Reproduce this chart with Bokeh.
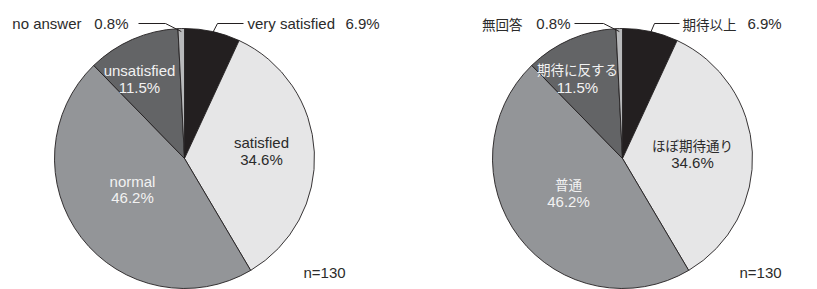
import math
from bokeh.plotting import figure
from bokeh.models import Range1d, ColumnDataSource
from bokeh.core.properties import value
from bokeh.embed import file_html
from bokeh.resources import INLINE

# ---- data ----
categories_en = ["very satisfied", "satisfied", "normal", "unsatisfied", "no answer"]
categories_ja = ["期待以上", "ほぼ期待通り", "普通", "期待に反する", "無回答"]
shares = [6.9, 34.6, 46.2, 11.5, 0.8]
n_resp = 130

# ---- styles ----
colors = ["#231f20", "#e6e6e7", "#939598", "#636466", "#b8b9bb"]
inner_text_colors = [None, "#2b2b2b", "#f2f2f2", "#f2f2f2", None]
LATIN = "Liberation Sans"
CJK = "Noto Sans CJK JP"
FS = "15px"
FS_CJK = "13.5px"
TXT = "#2b2b2b"

W, H = 817, 289
p = figure(width=W, height=H, output_backend="svg", toolbar_location=None,
           x_range=Range1d(0, W), y_range=Range1d(-H, 0),
           x_axis_type=None, y_axis_type=None, min_border=0,
           background_fill_color="white", border_fill_color="white")
p.outline_line_color = None
p.grid.visible = False

R = 130
OUT_Y = 23  # y of outer callout labels (screen)

charts = [
    dict(cx=184, cy=158, labels=categories_en, lfont=LATIN, lfs=FS,
         inner=[None, (77, -16), (-52, 23), (-45, -88), None],
         inner_pct=[None, (77, 1), (-52, 39), (-45, -71), None],
         na_lbl=-103, na_pct=-56, na_elbow=-19, na_end=-46,
         vs_lbl=63, vs_pct=161, vs_elbow=33, vs_end=59,
         nx=140),
    dict(cx=622, cy=158, labels=categories_ja, lfont=CJK, lfs=FS_CJK,
         inner=[None, (70, -14), (-54, 25), (-45, -90), None],
         inner_pct=[None, (70, 4), (-54, 43), (-45, -71), None],
         na_lbl=-100, na_pct=-52, na_elbow=-19, na_end=-48,
         vs_lbl=60, vs_pct=125, vs_elbow=32, vs_end=57,
         nx=138),
]

for c in charts:
    cx, cy = c["cx"], -c["cy"]
    cum = 0.0
    starts, ends, mids = [], [], []
    for s in shares:
        a0 = math.pi / 2 - 2 * math.pi * cum / 100.0
        cum += s
        a1 = math.pi / 2 - 2 * math.pi * cum / 100.0
        starts.append(a0)
        ends.append(a1)
        mids.append((a0 + a1) / 2)
    src = ColumnDataSource(dict(x=[cx] * len(shares), y=[cy] * len(shares),
                                start=starts, end=ends, color=colors))
    p.wedge(x="x", y="y", radius=R, start_angle="start", end_angle="end",
            direction="clock", fill_color="color", line_color="#231f20",
            line_width=0.9, source=src)

    # inner labels
    for i, off in enumerate(c["inner"]):
        if off is None:
            continue
        p.text(x=[cx + off[0]], y=[cy - off[1]], text=[c["labels"][i]],
               text_align="center", text_baseline="middle",
               text_font=value(c["lfont"]), text_font_size=c["lfs"],
               text_color=inner_text_colors[i])
        po = c["inner_pct"][i]
        p.text(x=[cx + po[0]], y=[cy - po[1]], text=[f"{shares[i]:.1f}%"],
               text_align="center", text_baseline="middle",
               text_font=value(LATIN), text_font_size=FS,
               text_color=inner_text_colors[i])

    # callouts: very satisfied (index 0) and no answer (index 4)
    ly = -OUT_Y
    for i, side in ((0, "vs"), (4, "na")):
        m = mids[i]
        ax = cx + (R - 3) * math.cos(m)
        ay = cy + (R - 3) * math.sin(m)
        ex = cx + c[side + "_elbow"]
        hx = cx + c[side + "_end"]
        p.line(x=[ax, ex, hx], y=[ay, ly, ly], line_color="#231f20", line_width=1)
        align = "left" if side == "vs" else "right"
        p.text(x=[cx + c[side + "_lbl"]], y=[ly], text=[c["labels"][i]],
               text_align=align, text_baseline="middle",
               text_font=value(c["lfont"]), text_font_size=c["lfs"], text_color=TXT)
        p.text(x=[cx + c[side + "_pct"]], y=[ly], text=[f"{shares[i]:.1f}%"],
               text_align=align, text_baseline="middle",
               text_font=value(LATIN), text_font_size=FS, text_color=TXT)

    # n label
    p.text(x=[cx + c["nx"]], y=[cy - 114], text=[f"n={n_resp}"],
           text_align="center", text_baseline="middle",
           text_font=value(LATIN), text_font_size=FS, text_color=TXT)

open("out.html", "w").write(file_html(p, INLINE))
